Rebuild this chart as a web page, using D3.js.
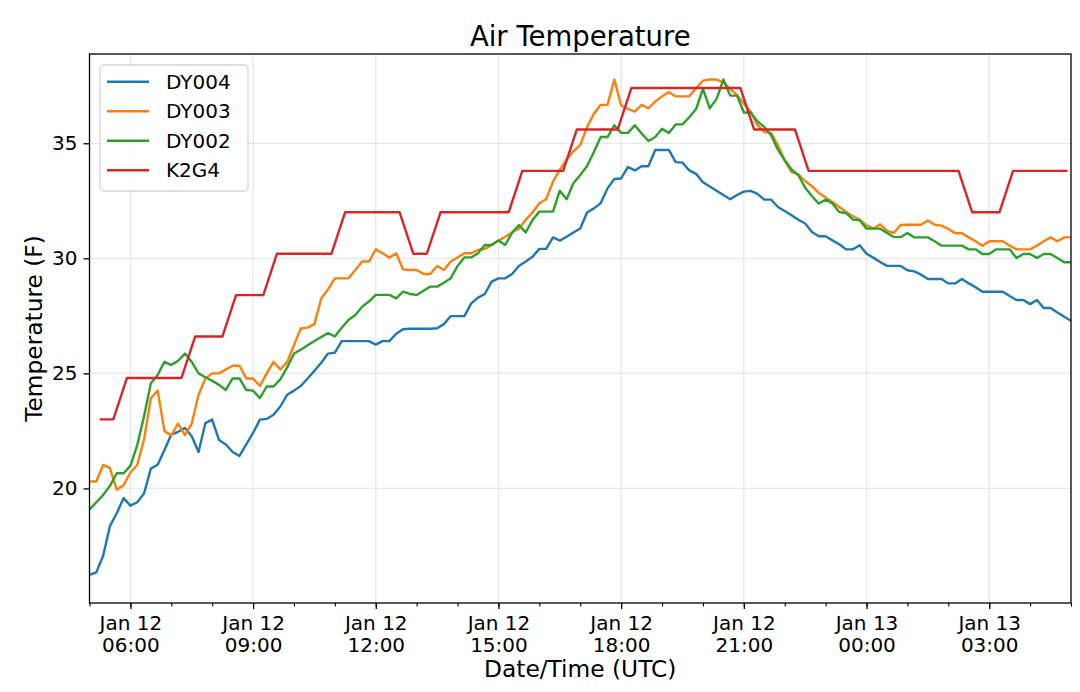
<!DOCTYPE html>
<html>
<head>
<meta charset="utf-8">
<script src="https://cdn.jsdelivr.net/npm/d3@7"></script>
<style>
body { margin: 0; background: #fff; }
text { font-family: 'DejaVu Sans', sans-serif; fill: #000; }
</style>
</head>
<body>
<svg id="chart" width="1080" height="692"></svg>
<script>
var seriesNames = ['DY004', 'DY003', 'DY002', 'K2G4'];
var seriesColors = ['#1f77b4', '#ff7f0e', '#2ca02c', '#d62728'];

// DY stations report every 10 minutes from Jan 12 05:00 UTC
var dyStart = '2019-01-12T05:00:00Z', dyStepMin = 10;
// K2G4 reports every 20 minutes from Jan 12 05:15 UTC
var k2g4Start = '2019-01-12T05:15:00Z', k2g4StepMin = 20;

var dy004 = [16.24, 16.35, 17.07, 18.36, 18.92, 19.58, 19.25, 19.40, 19.78, 20.86,
    21.03, 21.67, 22.34, 22.46, 22.63, 22.27, 21.58, 22.84, 22.99, 22.10,
    21.91, 21.58, 21.41, 21.91, 22.41, 22.99, 23.02, 23.20, 23.56, 24.07,
    24.25, 24.45, 24.78, 25.11, 25.46, 25.86, 25.90, 26.40, 26.40, 26.40,
    26.40, 26.40, 26.25, 26.40, 26.40, 26.72, 26.92, 26.94, 26.94, 26.94,
    26.94, 26.96, 27.14, 27.49, 27.49, 27.49, 28.04, 28.29, 28.45, 28.99,
    29.13, 29.13, 29.32, 29.67, 29.86, 30.07, 30.41, 30.41, 30.91, 30.77,
    30.94, 31.12, 31.30, 31.99, 32.17, 32.39, 33.04, 33.45, 33.47, 33.97,
    33.82, 34.00, 34.00, 34.71, 34.71, 34.71, 34.18, 34.16, 33.82, 33.67,
    33.31, 33.12, 32.94, 32.75, 32.57, 32.75, 32.90, 32.93, 32.80, 32.55,
    32.55, 32.23, 32.06, 31.87, 31.68, 31.51, 31.14, 30.96, 30.96, 30.78,
    30.61, 30.39, 30.39, 30.57, 30.20, 30.03, 29.84, 29.67, 29.67, 29.67,
    29.48, 29.43, 29.29, 29.10, 29.10, 29.10, 28.91, 28.91, 29.10, 28.91,
    28.74, 28.55, 28.55, 28.55, 28.55, 28.36, 28.19, 28.19, 28.01, 28.19,
    27.84, 27.84, 27.65, 27.46, 27.29];

var dy003 = [20.30, 20.30, 21.02, 20.88, 19.94, 20.14, 20.69, 21.02, 22.13, 23.92,
    24.25, 22.49, 22.30, 22.82, 22.31, 22.82, 24.07, 24.78, 25.00, 25.00,
    25.17, 25.33, 25.33, 24.78, 24.78, 24.45, 25.00, 25.50, 25.17, 25.50,
    26.22, 26.95, 26.99, 27.14, 28.26, 28.65, 29.13, 29.13, 29.13, 29.49,
    29.86, 29.86, 30.39, 30.22, 30.03, 30.22, 29.52, 29.49, 29.49, 29.32,
    29.32, 29.67, 29.49, 29.86, 30.04, 30.22, 30.22, 30.36, 30.41, 30.58,
    30.77, 30.94, 31.12, 31.30, 31.67, 31.99, 32.39, 32.57, 33.33, 33.84,
    34.30, 34.65, 34.93, 35.70, 36.28, 36.67, 36.67, 37.77, 36.64, 36.49,
    36.38, 36.67, 36.52, 36.81, 37.04, 37.22, 37.04, 37.04, 37.04, 37.39,
    37.72, 37.77, 37.77, 37.65, 37.36, 37.10, 36.72, 36.38, 35.80, 35.49,
    35.45, 34.91, 34.26, 33.75, 33.65, 33.36, 33.13, 32.84, 32.64, 32.45,
    32.23, 32.01, 31.83, 31.68, 31.43, 31.29, 31.48, 31.19, 31.10, 31.45,
    31.46, 31.46, 31.46, 31.64, 31.46, 31.42, 31.28, 31.09, 31.09, 30.91,
    30.74, 30.55, 30.74, 30.74, 30.74, 30.55, 30.39, 30.39, 30.39, 30.55,
    30.74, 30.91, 30.74, 30.91, 30.91];

var dy002 = [19.08, 19.40, 19.71, 20.11, 20.66, 20.66, 20.98, 21.87, 23.13, 24.57,
    24.93, 25.50, 25.36, 25.55, 25.86, 25.50, 25.00, 24.83, 24.68, 24.50,
    24.28, 24.78, 24.78, 24.28, 24.25, 23.92, 24.43, 24.43, 24.74, 25.26,
    25.86, 26.03, 26.22, 26.41, 26.58, 26.75, 26.60, 26.98, 27.32, 27.54,
    27.90, 28.12, 28.41, 28.41, 28.41, 28.26, 28.55, 28.45, 28.41, 28.59,
    28.77, 28.77, 28.94, 29.13, 29.67, 30.04, 30.04, 30.22, 30.58, 30.58,
    30.77, 30.58, 31.12, 31.45, 31.12, 31.67, 32.03, 32.03, 32.03, 32.94,
    32.57, 33.26, 33.62, 34.01, 34.62, 35.27, 35.27, 35.78, 35.45, 35.45,
    35.78, 35.43, 35.10, 35.27, 35.63, 35.45, 35.82, 35.82, 36.13, 36.49,
    37.36, 36.52, 36.93, 37.77, 37.07, 37.07, 36.34, 36.34, 35.95, 35.71,
    35.35, 34.72, 34.26, 33.86, 33.61, 33.07, 32.70, 32.38, 32.55, 32.38,
    32.01, 31.97, 31.68, 31.65, 31.29, 31.29, 31.29, 31.10, 30.93, 30.92,
    31.10, 30.91, 30.91, 30.91, 30.74, 30.55, 30.55, 30.55, 30.55, 30.39,
    30.39, 30.19, 30.19, 30.39, 30.39, 30.39, 30.01, 30.19, 30.19, 30.01,
    30.19, 30.19, 30.01, 29.83, 29.83];

var k2g4 = [23.0, 23.0, 24.8, 24.8, 24.8, 24.8, 24.8, 26.6, 26.6, 26.6,
    28.4, 28.4, 28.4, 30.2, 30.2, 30.2, 30.2, 30.2, 32.0, 32.0,
    32.0, 32.0, 32.0, 30.2, 30.2, 32.0, 32.0, 32.0, 32.0, 32.0,
    32.0, 33.8, 33.8, 33.8, 33.8, 35.6, 35.6, 35.6, 35.6, 37.4,
    37.4, 37.4, 37.4, 37.4, 37.4, 37.4, 37.4, 37.4, 35.6, 35.6,
    35.6, 35.6, 33.8, 33.8, 33.8, 33.8, 33.8, 33.8, 33.8, 33.8,
    33.8, 33.8, 33.8, 33.8, 32.0, 32.0, 32.0, 33.8, 33.8, 33.8,
    33.8, 33.8];

var yTicks = [20, 25, 30, 35];
var xStart = '2019-01-12T05:00:00Z', xEnd = '2019-01-13T05:00:00Z';

var svg = d3.select('#chart'),
    margin = {top: 54, right: 9, bottom: 89, left: 89.5},
    width = +svg.attr('width') - margin.left - margin.right,
    height = +svg.attr('height') - margin.top - margin.bottom;

function timesFrom(start, stepMin, n) {
    var t0 = new Date(start);
    return d3.range(n).map(function(i) { return d3.utcMinute.offset(t0, i * stepMin); });
}

var dyTimes = timesFrom(dyStart, dyStepMin, dy004.length);
var kTimes = timesFrom(k2g4Start, k2g4StepMin, k2g4.length);

var series = [
    {name: seriesNames[0], times: dyTimes, values: dy004},
    {name: seriesNames[1], times: dyTimes, values: dy003},
    {name: seriesNames[2], times: dyTimes, values: dy002},
    {name: seriesNames[3], times: kTimes, values: k2g4}
];

var x = d3.scaleUtc().domain([new Date(xStart), new Date(xEnd)]).range([0, width]),
    y = d3.scaleLinear().domain([15.02, 38.88]).range([height, 0]),
    color = d3.scaleOrdinal().domain(seriesNames).range(seriesColors);

var majorTicks = d3.utcHour.every(3).range(new Date('2019-01-12T06:00:00Z'), new Date(xEnd));
var minorTicks = d3.utcHour.every(1).range(new Date(xStart), d3.utcMinute.offset(new Date(xEnd), 1));

var g = svg.append('g')
    .attr('transform', 'translate(' + margin.left + ',' + margin.top + ')');

// grid
g.append('g').selectAll('line')
    .data(majorTicks)
    .enter().append('line')
    .attr('x1', function(d) { return x(d); })
    .attr('x2', function(d) { return x(d); })
    .attr('y1', 0).attr('y2', height)
    .style('stroke', '#e8e8e8').style('stroke-width', 1.3);

g.append('g').selectAll('line')
    .data(yTicks)
    .enter().append('line')
    .attr('x1', 0).attr('x2', width)
    .attr('y1', function(d) { return y(d); })
    .attr('y2', function(d) { return y(d); })
    .style('stroke', '#e8e8e8').style('stroke-width', 1.3);

// minor x ticks
g.append('g')
    .attr('transform', 'translate(0,' + height + ')')
    .call(d3.axisBottom(x).tickValues(minorTicks).tickSize(3.5).tickFormat(''))
    .call(function(a) { a.select('.domain').remove(); })
    .selectAll('line').style('stroke-width', 1.1);

// major x ticks, two-line labels
var fmtDay = d3.utcFormat('%b %d'), fmtHour = d3.utcFormat('%H:%M');
var xAxis = g.append('g')
    .attr('transform', 'translate(0,' + height + ')')
    .call(d3.axisBottom(x).tickValues(majorTicks).tickSize(6).tickPadding(6).tickFormat(''));
xAxis.select('.domain').remove();
xAxis.selectAll('line').style('stroke-width', 1.3);
xAxis.selectAll('.tick text')
    .attr('dy', null)
    .attr('y', 0)
    .style('font-size', '20px')
    .style('font-family', "'DejaVu Sans', sans-serif")
    .each(function(d) {
        var t = d3.select(this);
        t.append('tspan').attr('x', 0).attr('y', 27).text(fmtDay(d));
        t.append('tspan').attr('x', 0).attr('y', 49).text(fmtHour(d));
    });

var yAxis = g.append('g')
    .call(d3.axisLeft(y).tickValues(yTicks).tickSize(6).tickPadding(6));
yAxis.select('.domain').remove();
yAxis.selectAll('line').style('stroke-width', 1.3);
yAxis.selectAll('text')
    .style('font-size', '20px')
    .style('font-family', "'DejaVu Sans', sans-serif");

// data lines
var line = d3.line()
    .x(function(d) { return x(d[0]); })
    .y(function(d) { return y(d[1]); });

g.selectAll('.series')
    .data(series)
    .enter().append('path')
    .attr('class', 'series')
    .attr('d', function(s) { return line(d3.zip(s.times, s.values)); })
    .style('fill', 'none')
    .style('stroke', function(s) { return color(s.name); })
    .style('stroke-width', 2.4)
    .style('stroke-linejoin', 'round');

// frame
g.append('rect')
    .attr('width', width).attr('height', height)
    .style('fill', 'none').style('stroke', '#000').style('stroke-width', 1.3);

// legend
var legend = g.append('g').attr('transform', 'translate(' + (100 - margin.left) + ',' + (65 - margin.top) + ')');
legend.append('rect')
    .attr('width', 148).attr('height', 126).attr('rx', 4)
    .style('fill', '#fff').style('fill-opacity', 0.8)
    .style('stroke', '#d6d6d6').style('stroke-width', 1.3);

var item = legend.selectAll('.legend')
    .data(seriesNames)
    .enter().append('g')
    .attr('class', 'legend')
    .attr('transform', function(d, i) { return 'translate(0,' + (16.7 + i * 29.5) + ')'; });
item.append('line')
    .attr('x1', 7).attr('x2', 49)
    .style('stroke', color).style('stroke-width', 2.4);
item.append('text')
    .attr('x', 66).attr('dy', '0.36em')
    .style('font-size', '20px')
    .text(function(d) { return d; });

// titles
svg.append('text')
    .attr('x', margin.left + width / 2).attr('y', 46)
    .attr('text-anchor', 'middle')
    .style('font-size', '27.5px')
    .text('Air Temperature');

svg.append('text')
    .attr('x', margin.left + width / 2).attr('y', 677)
    .attr('text-anchor', 'middle')
    .style('font-size', '23.3px')
    .text('Date/Time (UTC)');

svg.append('text')
    .attr('transform', 'translate(42,' + (margin.top + height / 2) + ')rotate(-90)')
    .attr('text-anchor', 'middle')
    .style('font-size', '23.3px')
    .text('Temperature (F)');
</script>
</body>
</html>
